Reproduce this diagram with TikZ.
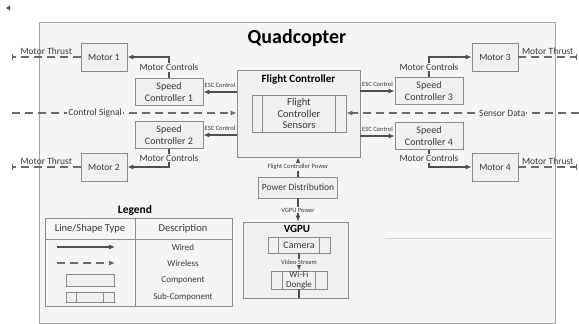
\documentclass[tikz,border=0pt]{standalone}
\usepackage{fontspec}
\setmainfont{Carlito}
\usetikzlibrary{arrows.meta,positioning}
\definecolor{framefill}{HTML}{F5F5F5}
\definecolor{frameline}{HTML}{A6A6A6}
\definecolor{boxfill}{HTML}{F0F0F0}
\definecolor{boxline}{HTML}{8C8C8C}
\definecolor{wire}{HTML}{505050}
\definecolor{ink}{HTML}{3A3A3A}
\def\subbars(#1)(#2){\draw[boxline, line width=0.8pt] ([xshift=#2]#1.north west) -- ([xshift=#2]#1.south west); \draw[boxline, line width=0.8pt] ([xshift=-#2]#1.north east) -- ([xshift=-#2]#1.south east);}
\tikzset{
	box/.style={draw=boxline, fill=boxfill, line width=0.8pt, text=ink, align=center, inner sep=0pt, font=\fontsize{9.5}{10.5}\selectfont},
	motor/.style={box, minimum width=46pt, minimum height=28pt},
	esc/.style={box, minimum width=68pt, minimum height=27pt, font=\fontsize{10}{11.5}\selectfont},
	wired/.style={draw=wire, line width=1.1pt, -{Latex[length=6pt,width=5pt]}},
	wireless/.style={wired, draw=wire!85, dash pattern=on 8pt off 5pt},
	lbl/.style={text=ink, font=\fontsize{9.5}{10}\selectfont, inner sep=1pt},
	tinylbl/.style={text=ink, font=\fontsize{6.5}{7}\selectfont, inner sep=1pt},
	heading/.style={text=black, font=\bfseries\fontsize{11}{12}\selectfont},
}

\begin{document}
\begin{tikzpicture}[x=1pt, y=-1pt]
		%%%%% START %%%%%
		\useasboundingbox (0,0) rectangle (579,324);
		
		\fill[wire] (6,8) -- (10,5.5) -- (10,10.5) -- cycle;
		\draw[draw=frameline, fill=framefill] (39,22) rectangle (555,323);
		\draw[frameline!50] (385,238) -- (552,238);
		
		\node[heading, font=\bfseries\fontsize{20}{22}\selectfont] (title) at (297,38) {Quadcopter};
		
		% flight controller
		\node[box, minimum width=123pt, minimum height=87pt] (fc) at (298.5,113.5) {};
		\node[heading] (fctitle) at (298.5,80) {Flight Controller};
		\node[box, minimum width=94pt, minimum height=37pt, font=\fontsize{10.5}{11.5}\selectfont] (fcs) at (299,113.5) {Flight\\Controller\\Sensors};
		\subbars(fcs)(11pt)
		
		% speed controllers and motors
		\node[esc] (sc1) at (169,92) {Speed\\Controller 1};
		\node[esc] (sc2) at (169,135) {Speed\\Controller 2};
		\node[esc] (sc3) at (429,91) {Speed\\Controller 3};
		\node[esc] (sc4) at (429,136) {Speed\\Controller 4};
		
		\node[motor] (m1) at (104,57) {Motor 1};
		\node[motor] (m2) at (104,167) {Motor 2};
		\node[motor] (m3) at (495,57) {Motor 3};
		\node[motor] (m4) at (495,167) {Motor 4};
		
		\draw[wired] (fc.west |- sc1) -- (sc1) node[tinylbl, midway, above=3pt] {ESC Control};
		\draw[wired] (fc.west |- sc2) -- (sc2) node[tinylbl, midway, above=3pt] {ESC Control};
		\draw[wired] (fc.east |- sc3) -- (sc3) node[tinylbl, midway, above=3pt] {ESC Control};
		\draw[wired] (fc.east |- sc4) -- (sc4) node[tinylbl, midway, above=3pt] {ESC Control};
		
		\draw[wired] (sc1.north) |- (m1) node[lbl, fill=framefill, pos=0.25] {Motor Controls};
		\draw[wired] (sc2.south) |- (m2) node[lbl, fill=framefill, pos=0.25] {Motor Controls};
		\draw[wired] (sc3.north) |- (m3) node[lbl, fill=framefill, pos=0.25] {Motor Controls};
		\draw[wired] (sc4.south) |- (m4) node[lbl, fill=framefill, pos=0.25] {Motor Controls};
		
		\coordinate (thrust1) at (12,57);
		\coordinate (thrust2) at (12,167);
		\coordinate (thrust3) at (577,57);
		\coordinate (thrust4) at (577,167);
		\draw[wireless, -{Bar[width=6pt]}] (m1) -- (thrust1) node[lbl, midway, above=1pt] {Motor Thrust};
		\draw[wireless, -{Bar[width=6pt]}] (m2) -- (thrust2) node[lbl, midway, above=1pt] {Motor Thrust};
		\draw[wireless, -{Bar[width=6pt]}] (m3) -- (thrust3) node[lbl, midway, above=1pt] {Motor Thrust};
		\draw[wireless, -{Bar[width=6pt]}] (m4) -- (thrust4) node[lbl, midway, above=1pt] {Motor Thrust};
		
		\coordinate (ctrlin) at (12,113);
		\coordinate (sensin) at (579,113);
		\draw[wireless] (ctrlin) -- (fc.west |- ctrlin) node[lbl, fill=framefill, pos=0.37] {Control Signal};
		\draw[wireless] (sensin) -- (fcs.east |- sensin) node[lbl, fill=framefill, pos=0.33] {Sensor Data};
		
		% power and vgpu
		\node[box, minimum width=79pt, minimum height=21pt] (pd) at (298,187.5) {Power Distribution};
		\draw[wired] (pd.north) -- (pd.north |- fc.south) node[tinylbl, fill=framefill, midway] {Flight Controller Power};
		
		\node[box, minimum width=105pt, minimum height=76pt] (vgpu) at (295.5,260) {};
		\node[heading] (vgputitle) at (297,229) {VGPU};
		\draw[wired] (pd.south) -- (pd.south |- vgpu.north) node[tinylbl, fill=framefill, midway] {VGPU Power};
		
		\node[box, minimum width=62pt, minimum height=16pt, font=\fontsize{10}{11}\selectfont] (cam) at (299,245) {Camera};
		\subbars(cam)(11pt)
		\node[box, minimum width=56pt, minimum height=18pt, font=\fontsize{9}{9.5}\selectfont] (wifi) at (299,280) {Wi-Fi\\Dongle};
		\subbars(wifi)(12pt)
		\draw[wired] (cam.south) -- (wifi.north) node[tinylbl, fill=boxfill, midway] {Video Stream};
		\draw[wire, line width=1.1pt] (wifi.south) -- (wifi.south |- vgpu.south);
		
		% legend
		\node[heading, font=\bfseries\fontsize{11.5}{12}\selectfont] (legtitle) at (135,210) {Legend};
		\node[draw=boxline, line width=0.8pt, minimum width=187pt, minimum height=88pt, inner sep=0pt] (legtab) at (138.5,262) {};
		\draw[boxline, line width=0.8pt] (legtab.north -| 135,0) -- (legtab.south -| 135,0);
		\draw[boxline, line width=0.8pt] (legtab.west |- 0,239) -- (legtab.east |- 0,239);
		\node[lbl, font=\fontsize{10.5}{11}\selectfont] (head1) at (90,229) {Line/Shape Type};
		\node[lbl, font=\fontsize{10.5}{11}\selectfont] (head2) at (183,229) {Description};
		
		\coordinate (wiredA) at (57,247);
		\coordinate (wiredB) at (115,247);
		\coordinate (wlessA) at (57,263);
		\coordinate (wlessB) at (115,263);
		\draw[wired] (wiredA) -- (wiredB);
		\draw[wireless] (wlessA) -- (wlessB);
		\node[box, minimum width=48pt, minimum height=12pt] (legcomp) at (90,280) {};
		\node[box, minimum width=48pt, minimum height=10pt] (legsub) at (90,297) {};
		\subbars(legsub)(11pt)
		
		\node[lbl, font=\fontsize{9}{10}\selectfont] (dwired) at (183,247) {Wired};
		\node[lbl, font=\fontsize{9}{10}\selectfont] (dwless) at (183,263) {Wireless};
		\node[lbl, font=\fontsize{9}{10}\selectfont] (dcomp) at (183,280) {Component};
		\node[lbl, font=\fontsize{9}{10}\selectfont] (dsub) at (183,297) {Sub-Component};
		%%%%% END %%%%%
\end{tikzpicture}
\end{document}
